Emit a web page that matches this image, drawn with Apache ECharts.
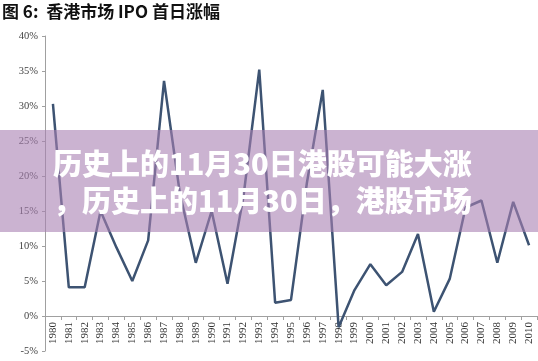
<!DOCTYPE html>
<html><head><meta charset="utf-8">
<script src="https://cdn.jsdelivr.net/npm/echarts@6/dist/echarts.min.js"></script>
<style>html,body{margin:0;padding:0;background:#fff}#c{width:538px;height:361px}</style>
</head><body><div id="c"></div>
<script>
const titleText = '图 6:  香港市场 IPO 首日涨幅';
const bannerLine1 = '历史上的11月30日港股可能大涨';
const bannerLine2 = '，历史上的11月30日，港股市场';
const years = ['1980','1981','1982','1983','1984','1985','1986','1987','1988','1989','1990','1991','1992','1993','1994','1995','1996','1997','1998','1999','2000','2001','2002','2003','2004','2005','2006','2007','2008','2009','2010'];
const ipoFirstDayGain = [30.3, 4.1, 4.1, 15.0, 9.8, 5.0, 10.8, 33.6, 17.5, 7.6, 15.0, 4.6, 17.0, 35.2, 1.9, 2.3, 19.0, 32.3, -1.6, 3.7, 7.4, 4.4, 6.3, 11.7, 0.6, 5.3, 15.5, 16.5, 7.6, 16.3, 10.1];
const yMin = -5, yMax = 40, yStep = 5;

const gridTop = 36, gridBottom = 10, H = 361;
const plotH = H - gridTop - gridBottom;
const zeroOffset = -plotH * (0 - yMin) / (yMax - yMin);

const chart = echarts.init(document.getElementById('c'), null, {renderer:'canvas'});
chart.setOption({
  animation: false,
  backgroundColor: '#fff',
  grid: {left: 45, right: 1, top: gridTop, bottom: gridBottom, containLabel: false, outerBoundsMode: 'none'},
  xAxis: {
    type: 'category', data: years, boundaryGap: true, offset: zeroOffset,
    axisLine: {onZero: false, lineStyle: {color: '#a0a0a0', width: 1}},
    axisTick: {show: true, alignWithLabel: false, length: 4, lineStyle: {color: '#a0a0a0'}},
    axisLabel: {rotate: 90, interval: 0, margin: 6, color: '#333', fontFamily: 'Liberation Serif', fontSize: 11}
  },
  yAxis: {
    type: 'value', min: yMin, max: yMax, interval: yStep,
    axisLine: {show: true, lineStyle: {color: '#a0a0a0', width: 1}},
    axisTick: {show: true, length: 3, lineStyle: {color: '#a0a0a0'}},
    splitLine: {show: false},
    axisLabel: {formatter: v => v + '%', margin: 7, color: '#444', fontFamily: 'Liberation Serif', fontSize: 10.5}
  },
  series: [{
    type: 'line', data: ipoFirstDayGain, symbol: 'none',
    lineStyle: {color: '#3d5372', width: 2.5}
  }],
  graphic: [
    {type: 'text', left: 2, top: 3, z: 10,
     style: {text: titleText, font: 'bold 17px "Noto Sans CJK SC"', fill: '#111'}},
    {type: 'rect', left: 0, top: 130, z: 20,
     shape: {width: 538, height: 102},
     style: {fill: 'rgba(168,128,178,0.6)'}},
    {type: 'text', left: 53, top: 149, z: 21,
     style: {text: bannerLine1, font: '900 29px "Noto Sans CJK SC"', fill: '#fff'}},
    {type: 'text', left: 53, top: 186, z: 21,
     style: {text: bannerLine2, font: '900 29px "Noto Sans CJK SC"', fill: '#fff'}}
  ]
});
</script></body></html>
